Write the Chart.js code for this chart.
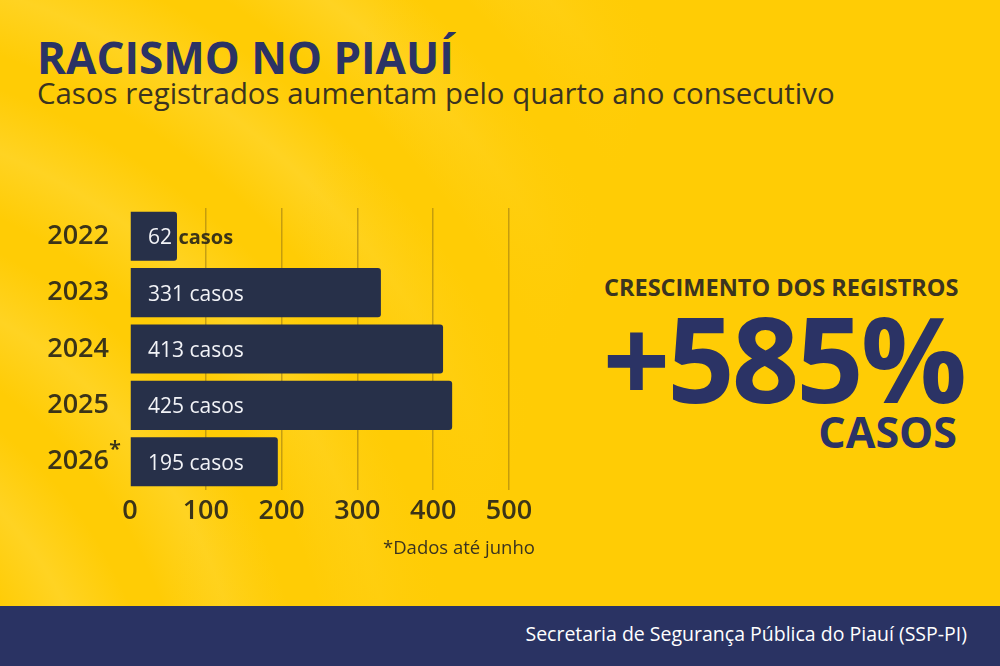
<!DOCTYPE html>
<html>
<head>
<meta charset="utf-8">
<script src="https://cdn.jsdelivr.net/npm/chart.js@4.4.1/dist/chart.umd.min.js"></script>
<style>
  html, body { margin: 0; padding: 0; }
  body {
    width: 1000px; height: 666px; overflow: hidden; position: relative;
    font-family: 'Open Sans', sans-serif;
    background-color: #ffcc05;
    background-image:
      repeating-radial-gradient(circle at -260px 760px, rgba(255,230,110,0) 0px, rgba(255,230,110,0.28) 60px, rgba(255,230,110,0) 120px, rgba(255,230,110,0) 150px);
  }
  .fade { position: absolute; left: 0; top: 0; width: 1000px; height: 666px;
    background: linear-gradient(110deg, rgba(255,204,5,0) 0%, rgba(255,204,5,0) 30%, #ffcc05 55%); }
  .title { position: absolute; left: 37px; top: 35px; font-size: 44px; font-weight: 700; color: #2b3365; line-height: 1; }
  .sub { position: absolute; left: 37px; top: 79px; font-size: 29.4px; font-weight: 400; color: #3b3420; line-height: 1; }
  #wrap { position: absolute; left: 0; top: 180px; width: 560px; height: 360px; }
  .note { position: absolute; left: 383px; top: 538px; font-size: 18.5px; color: #3b3420; line-height: 1; }
  .kpi-head { position: absolute; left: 604px; top: 276px; font-size: 23.5px; font-weight: 700; color: #3b3420; line-height: 1; }
  .kpi { position: absolute; right: 36px; top: 299px; font-size: 118px; font-weight: 700; color: #2b3365; line-height: 1; letter-spacing: -3px; }
  .kpi-unit { position: absolute; right: 43px; top: 410px; font-size: 43px; font-weight: 700; color: #2b3365; line-height: 1; }
  .footer { position: absolute; left: 0; top: 606px; width: 1000px; height: 60px; background: #2a3363; }
  .footer span { position: absolute; right: 33px; top: 18px; font-size: 19.5px; color: #ffffff; line-height: 1; }
</style>
</head>
<body>
<div class="fade"></div>
<div class="title">RACISMO NO PIAUÍ</div>
<div class="sub">Casos registrados aumentam pelo quarto ano consecutivo</div>
<div id="wrap"><canvas id="chart"></canvas></div>
<div class="note">*Dados até junho</div>
<div class="kpi-head">CRESCIMENTO DOS REGISTROS</div>
<div class="kpi">+585%</div>
<div class="kpi-unit">CASOS</div>
<div class="footer"><span>Secretaria de Segurança Pública do Piauí (SSP-PI)</span></div>

<script>
const years = ['2022', '2023', '2024', '2025', '2026'];
const cases = [62, 331, 413, 425, 195];
const xTicks = [0, 100, 200, 300, 400, 500];
const markedYear = '2026'; // dados parciais

const navy = '#273049';
const ink = '#3b3418';

// rótulos "NN casos" dentro das barras
const caseLabels = {
  id: 'caseLabels',
  afterDatasetsDraw(chart) {
    const { ctx } = chart;
    const meta = chart.getDatasetMeta(0);
    meta.data.forEach((bar, i) => {
      const num = String(cases[i]);
      const startX = chart.chartArea.left + 18;
      const y = bar.y + 2;
      ctx.save();
      ctx.textBaseline = 'middle';
      ctx.textAlign = 'left';
      ctx.font = '400 21px "Open Sans"';
      const full = num + ' casos';
      if (startX + ctx.measureText(full).width < bar.x - 4) {
        ctx.fillStyle = '#f2f3f7';
        ctx.fillText(full, startX, y);
      } else {
        ctx.fillStyle = '#f2f3f7';
        ctx.fillText(num, startX, y);
        const w = ctx.measureText(num + ' ').width;
        ctx.font = '700 20px "Open Sans"';
        ctx.fillStyle = ink;
        ctx.fillText('casos', startX + w + 1, y);
      }
      ctx.restore();
    });
  }
};

// asterisco do ano parcial
const yearMark = {
  id: 'yearMark',
  afterDraw(chart) {
    const { ctx, scales: { y } } = chart;
    const idx = years.indexOf(markedYear);
    const py = y.getPixelForValue(idx);
    ctx.save();
    ctx.font = '600 22px "Open Sans"';
    ctx.fillStyle = ink;
    ctx.textAlign = 'left';
    ctx.textBaseline = 'middle';
    ctx.fillText('*', y.right - 21, py - 12);
    ctx.restore();
  }
};

new Chart(document.getElementById('chart'), {
  type: 'bar',
  data: {
    labels: years,
    datasets: [{
      data: cases,
      backgroundColor: navy,
      borderRadius: 3,
      barPercentage: 0.87,
      categoryPercentage: 1,
    }]
  },
  options: {
    indexAxis: 'y',
    responsive: true,
    maintainAspectRatio: false,
    animation: false,
    layout: { padding: { left: 30, right: 51, top: 28, bottom: 10 } },
    scales: {
      x: {
        min: 0,
        max: 500,
        afterBuildTicks(scale) { scale.ticks = xTicks.map(v => ({ value: v })); },
        afterFit(scale) { scale.height = 40; },
        grid: {
          color: (c) => c.tick && c.tick.value === 0 ? 'rgba(0,0,0,0)' : 'rgba(150,118,20,0.55)',
          lineWidth: 1.5,
          drawTicks: false
        },
        border: { display: false },
        ticks: {
          padding: 5,
          color: ink,
          font: { family: 'Open Sans', size: 27, weight: '600' },
        }
      },
      y: {
        afterFit(scale) {
          scale.width = 100;
          scale.paddingTop = 0;
          scale.paddingBottom = 0;
        },
        grid: { display: false, drawTicks: false },
        border: { display: false },
        ticks: {
          padding: 21,
          color: ink,
          font: { family: 'Open Sans', size: 27, weight: '600' },
        }
      }
    },
    plugins: {
      legend: { display: false },
      tooltip: { enabled: false },
    }
  },
  plugins: [caseLabels, yearMark]
});
</script>
</body>
</html>
